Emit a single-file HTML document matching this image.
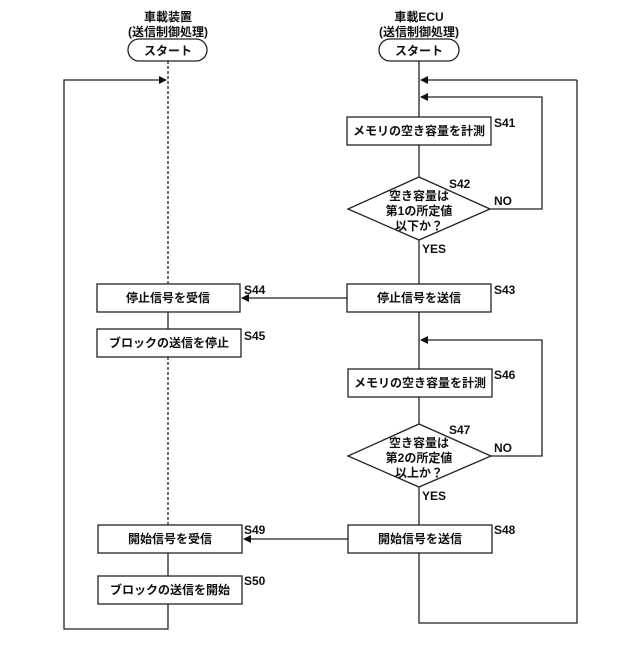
<!DOCTYPE html>
<html><head><meta charset="utf-8"><style>
html,body{margin:0;padding:0;background:#fff;}
svg text{font-family:"Liberation Sans","Noto Sans CJK JP",sans-serif;font-weight:bold;fill:#111;}
</style></head><body>
<svg width="640" height="640" viewBox="0 0 640 640" xmlns="http://www.w3.org/2000/svg">
<defs><marker id="a" markerWidth="8" markerHeight="8" refX="7" refY="4" orient="auto" markerUnits="userSpaceOnUse"><path d="M0,0 L8,4 L0,8 z" fill="#111"/></marker></defs>
<g stroke="#222" stroke-width="1.3" fill="none">
<!-- left column -->
<rect x="128" y="39" width="79" height="22" rx="11"/>
<line x1="168" y1="61" x2="168" y2="284" stroke-dasharray="3,2"/>
<line x1="168" y1="357" x2="168" y2="525" stroke-dasharray="3,2"/>
<line x1="168" y1="312" x2="168" y2="329"/>
<line x1="168" y1="553" x2="168" y2="576"/>
<polyline points="168,604 168,629 64,629 64,80 166,80" marker-end="url(#a)"/>
<rect x="97" y="284" width="143" height="28"/>
<rect x="97" y="329" width="144" height="28"/>
<rect x="98" y="525" width="144" height="28"/>
<rect x="98" y="576" width="144" height="28"/>
<!-- right column -->
<rect x="379" y="39" width="80" height="22" rx="11"/>
<line x1="419" y1="61" x2="419" y2="117"/>
<polyline points="577,80 577,623 419,623 419,553"/>
<line x1="577" y1="80" x2="421" y2="80" marker-end="url(#a)"/>
<polyline points="490,209 542,209 542,97 421,97" marker-end="url(#a)"/>
<rect x="347" y="117" width="144" height="28"/>
<line x1="419" y1="145" x2="419" y2="177"/>
<polygon points="419,177 490,209 419,240 348,209"/>
<line x1="419" y1="240" x2="419" y2="284"/>
<rect x="347" y="284" width="144" height="28"/>
<line x1="347" y1="298" x2="242" y2="298" marker-end="url(#a)"/>
<line x1="419" y1="312" x2="419" y2="369"/>
<polyline points="491,456 542,456 542,340 421,340" marker-end="url(#a)"/>
<rect x="348" y="369" width="144" height="28"/>
<line x1="419" y1="397" x2="419" y2="424"/>
<polygon points="419,424 491,456 419,487 348,456"/>
<line x1="419" y1="487" x2="419" y2="525"/>
<rect x="348" y="525" width="144" height="28"/>
<line x1="348" y1="539" x2="244" y2="539" marker-end="url(#a)"/>
</g>
<g font-size="12" text-anchor="middle">
<text x="168" y="21">車載装置</text>
<text x="168" y="36">(送信制御処理)</text>
<text x="168" y="55">スタート</text>
<text x="419" y="21">車載ECU</text>
<text x="419" y="36">(送信制御処理)</text>
<text x="419" y="55">スタート</text>
<text x="419" y="135">メモリの空き容量を計測</text>
<text x="419" y="200">空き容量は</text>
<text x="419" y="215">第1の所定値</text>
<text x="419" y="230">以下か？</text>
<text x="419" y="302">停止信号を送信</text>
<text x="168" y="302">停止信号を受信</text>
<text x="169" y="347">ブロックの送信を停止</text>
<text x="420" y="387">メモリの空き容量を計測</text>
<text x="419" y="447">空き容量は</text>
<text x="419" y="462">第2の所定値</text>
<text x="419" y="477">以上か？</text>
<text x="420" y="543">開始信号を送信</text>
<text x="170" y="543">開始信号を受信</text>
<text x="170" y="594">ブロックの送信を開始</text>
</g>
<g font-size="12">
<text x="494" y="127">S41</text>
<text x="449" y="188">S42</text>
<text x="494" y="205">NO</text>
<text x="422" y="253">YES</text>
<text x="494" y="294">S43</text>
<text x="244" y="294">S44</text>
<text x="244" y="340">S45</text>
<text x="494" y="379">S46</text>
<text x="449" y="434">S47</text>
<text x="494" y="452">NO</text>
<text x="422" y="500">YES</text>
<text x="494" y="534">S48</text>
<text x="244" y="534">S49</text>
<text x="244" y="585">S50</text>
</g>
</svg>
</body></html>
